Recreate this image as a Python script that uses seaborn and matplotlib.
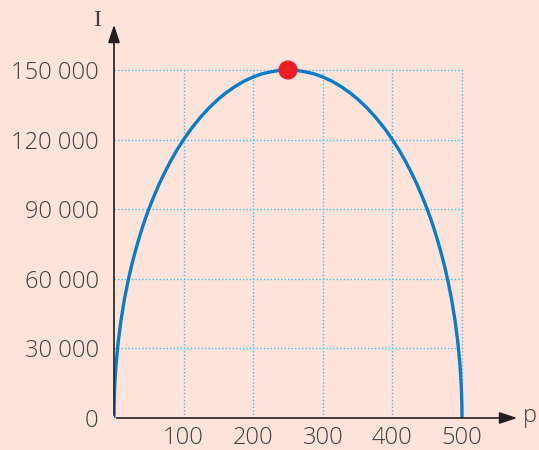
import matplotlib
matplotlib.use("Agg")
import matplotlib.pyplot as plt
import pandas as pd
import seaborn as sns

# values (p, I)
p_vals = [0, 0.2, 1, 2, 3, 6, 10, 15, 20, 25, 30, 35, 40, 45, 50, 57, 65, 72, 80, 90,
          100, 112, 125, 137, 150, 162, 175, 187, 200, 212, 225, 237, 250,
          263, 275, 288, 300, 313, 325, 338, 350, 363, 375, 388, 400, 410, 420, 428, 435, 443,
          450, 455, 460, 465, 470, 475, 480, 485, 490, 494, 497, 498, 499, 499.8, 500]
i_vals = [0, 6000, 13400, 18900, 23200, 32700, 42000, 51200, 58800, 65400, 71200, 76500, 81400,
          85900, 90000, 95300, 100900, 105300, 110000, 115300, 120000, 125100, 129900, 133800,
          137500, 140400, 143100, 145200, 147000, 148300, 149200, 149800, 150000,
          149800, 149200, 148300, 147000, 145200, 143100, 140400, 137500, 133800, 129900, 125100,
          120000, 115300, 110000, 105300, 100900, 95300, 90000, 85900, 81400, 76500, 71200, 65400,
          58800, 51200, 42000, 32700, 23200, 18900, 13400, 6000, 0]
max_p = [250]
max_i = [150000]
x_ticks = [100, 200, 300, 400, 500]
y_ticks = [0, 30000, 60000, 90000, 120000, 150000]
y_labels = ["0", "30 000", "60 000", "90 000", "120 000", "150 000"]

bg = "#fde3da"
txt = "#414042"
sns.set_theme(style="white")
plt.rcParams["font.family"] = ["Open Sans", "DejaVu Sans"]
plt.rcParams["font.weight"] = "light"

fig = plt.figure(figsize=(5.39, 4.5), dpi=100, facecolor=bg)
# axes placed so spines sit where the reference has them
ax = fig.add_axes([114 / 539, 32 / 450, 406 / 539, 396 / 450])
ax.set_facecolor(bg)
ax.set_xlim(0, 406 / 348 * 500)
ax.set_ylim(0, 396 / 348 * 150000)

# dotted cyan grid, only inside the 500 x 150000 box
for x in x_ticks:
    ax.plot([x, x], [0, 150000], color="#3cc3f0", lw=1.0, ls=(0, (1, 1.5)), zorder=1)
for y in y_ticks[1:]:
    ax.plot([0, 500], [y, y], color="#3cc3f0", lw=1.0, ls=(0, (1, 1.5)), zorder=1)

df = pd.DataFrame({"p": p_vals, "I": i_vals})
sns.lineplot(data=df, x="p", y="I", color="#0a7bc6", lw=2.4, sort=False, ax=ax, zorder=3,
             solid_joinstyle="round", solid_capstyle="round")
sns.scatterplot(x=max_p, y=max_i, color="#ee1c25", s=190, edgecolor="none", ax=ax, zorder=4)

for s in ax.spines.values():
    s.set_visible(False)
ax.annotate("", xy=(1, 0), xytext=(0, 0), xycoords="axes fraction",
            arrowprops=dict(arrowstyle="-|>,head_length=0.9,head_width=0.3", color="#231f20", lw=1.2))
ax.annotate("", xy=(0, 1), xytext=(0, 0), xycoords="axes fraction",
            arrowprops=dict(arrowstyle="-|>,head_length=0.9,head_width=0.3", color="#231f20", lw=1.2))

ax.set_xticks(x_ticks)
ax.set_xticklabels([str(v) for v in x_ticks])
ax.set_yticks(y_ticks)
ax.set_yticklabels(y_labels)
ax.tick_params(axis="both", length=0, labelsize=17, labelcolor=txt)
ax.tick_params(axis="x", pad=6)
ax.tick_params(axis="y", pad=11)
ax.set_xlabel("")
ax.set_ylabel("")

fig.text(97 / 539, 1 - 20 / 450, "I", fontsize=17, color=txt, ha="center", va="center",
         family=["Liberation Serif", "DejaVu Serif"])
fig.text(530 / 539, 1 - 416 / 450, "p", fontsize=17, color=txt, ha="center", va="center")

fig.savefig("out.png", dpi=100, facecolor=bg)
